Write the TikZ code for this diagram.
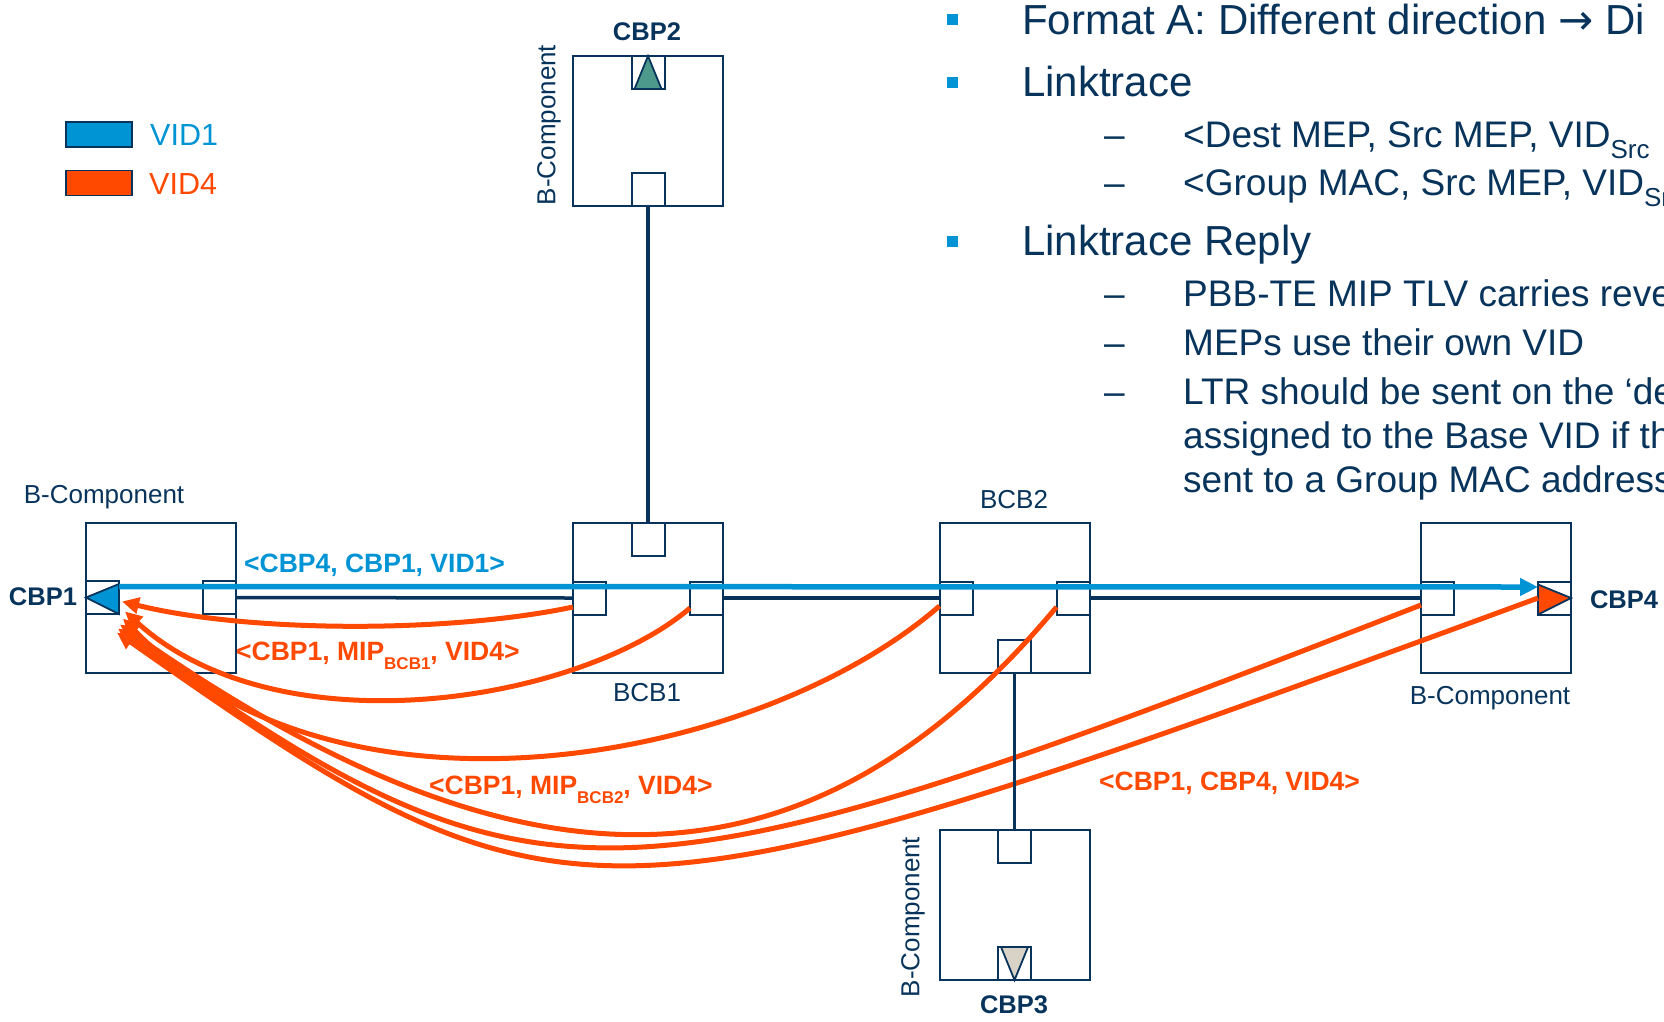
\documentclass[tikz,border=0pt]{standalone}
\usepackage{fontspec}
\setmainfont{Liberation Sans}
\newfontfamily\arrowfont{DejaVu Sans}
\usetikzlibrary{arrows.meta,calc}
\definecolor{navy}{RGB}{8,52,92}
\definecolor{vblue}{RGB}{0,148,212}
\definecolor{vorange}{RGB}{255,72,0}
\definecolor{tealfill}{RGB}{77,154,140}
\definecolor{beige}{RGB}{217,211,199}
\newcommand\lowtxt[2]{\raisebox{-0.32em}{\fontsize{#1}{#1}\selectfont #2}}
\begin{document}
\begin{tikzpicture}[x=1pt,y=-1pt,
  bbox/.style={draw=navy,line width=2pt,minimum width=150pt,minimum height=150pt,inner sep=0pt,outer sep=0pt},
  port/.style={draw=navy,line width=2pt,fill=white,minimum width=33pt,minimum height=33pt,inner sep=0pt,outer sep=0pt},
  link/.style={navy,line width=3.5pt},
  reply/.style={vorange,line width=5pt,-{Triangle[length=17pt,width=16pt]}},
  req/.style={vblue,line width=5.5pt,-{Triangle[length=18pt,width=17pt]}},
  lbl/.style={text=navy,inner sep=0pt,font=\fontsize{26}{30}\selectfont},
  cbp/.style={text=navy,inner sep=0pt,font=\bfseries\fontsize{25.5}{30}\selectfont},
  tag/.style={inner sep=0pt,anchor=west,font=\bfseries\fontsize{26.5}{30}\selectfont},
  big/.style={text=navy,inner sep=0pt,anchor=base west,font=\fontsize{42}{48}\selectfont},
  small/.style={text=navy,inner sep=0pt,anchor=base west,font=\fontsize{37}{44}\selectfont},
  bul/.style={fill=vblue,minimum size=11pt,inner sep=0pt},
  legbox/.style={draw=navy,line width=1.5pt,minimum width=66pt,minimum height=25pt,inner sep=0pt},
  tri/.style={draw=navy,line width=1.8pt,line join=miter},
]
\useasboundingbox (0,0) rectangle (1664,1021);
\clip (0,0) rectangle (1664,1021);

% legend
\node[legbox,fill=vblue] (leg1) at (99,134.5) {};
\node[legbox,fill=vorange] (leg4) at (99,183) {};
\node[anchor=west,inner sep=0pt,text=vblue,font=\fontsize{30.5}{34}\selectfont] (leg1t) at (150,135) {VID1};
\node[anchor=west,inner sep=0pt,text=vorange,font=\fontsize{30.5}{34}\selectfont] (leg4t) at (149,184) {VID4};

% boxes
\node[bbox] (cbp2) at (648,131) {};
\node[bbox] (bcb1) at (648,598) {};
\node[bbox] (bcb2) at (1014.5,598) {};
\node[bbox] (cbp3) at (1014.5,905) {};
\node[bbox] (cbp1) at (161,597.5) {};
\node[bbox] (cbp4) at (1496,598) {};

% ports
\node[port,anchor=north] (cbp2t) at (cbp2.north) {};
\node[port,anchor=south] (cbp2b) at (cbp2.south) {};
\node[port,anchor=north] (bcb1t) at (bcb1.north) {};
\node[port,anchor=west] (bcb1l) at (bcb1.west) {};
\node[port,anchor=east] (bcb1r) at (bcb1.east) {};
\node[port,anchor=west] (bcb2l) at (bcb2.west) {};
\node[port,anchor=east] (bcb2r) at (bcb2.east) {};
\node[port,anchor=south] (bcb2b) at (bcb2.south) {};
\node[port,anchor=north] (cbp3t) at (cbp3.north) {};
\node[port,anchor=south] (cbp3b) at (cbp3.south) {};
\node[port,anchor=west] (cbp1l) at (cbp1.west) {};
\node[port,anchor=east] (cbp1r) at (cbp1.east) {};
\node[port,anchor=west] (cbp4l) at (cbp4.west) {};
\node[port,anchor=east] (cbp4r) at (cbp4.east) {};

% port triangles
\draw[tri,fill=tealfill] ([xshift=3pt]cbp2t.south west) -- (cbp2t.north) -- ([xshift=-3pt]cbp2t.south east) -- cycle;
\draw[tri,fill=beige] ([xshift=3pt]cbp3b.north west) -- (cbp3b.south) -- ([xshift=-3pt]cbp3b.north east) -- cycle;
\draw[tri,fill=vblue] (cbp1l.west) -- ([yshift=-3pt]cbp1l.north east) -- (cbp1l.south east) -- cycle;
\draw[tri,fill=vorange] (cbp4r.east) -- ([yshift=-3pt]cbp4r.north west) -- (cbp4r.south west) -- cycle;

% labels
\node[cbp] (cbp2n) at (647,32) {CBP2};
\node[cbp] (cbp3n) at (1014,1005) {CBP3};
\node[cbp] (cbp1n) at (43,597) {CBP1};
\node[cbp] (cbp4n) at (1624,600) {CBP4};
\node[lbl,rotate=90] (cbp2c) at (549,125) {B-Component};
\node[lbl,rotate=90] (cbp3c) at (913,917) {B-Component};
\node[lbl] (cbp1c) at (104,497) {B-Component};
\node[lbl] (cbp4c) at (1490,698) {B-Component};
\node[lbl] (bcb1n) at (647,693) {BCB1};
\node[lbl] (bcb2n) at (1014,500) {BCB2};

% dark links
\draw[link] (cbp1r.east) -- (bcb1l.west);
\draw[link] (bcb1r.east) -- (bcb2l.west);
\draw[link] (bcb2r.east) -- (cbp4l.west);
\draw[link] (cbp2b.south) -- (bcb1t.north);

% reply curves
\coordinate (s1) at ([yshift=-9pt]bcb1l.west);
\coordinate (s2) at ([yshift=-10pt]bcb1r.west);
\coordinate (s3) at ([yshift=-8pt]bcb2l.west);
\coordinate (s4) at ([yshift=-9pt]bcb2r.west);
\coordinate (s5) at ([yshift=-7pt]cbp4l.west);
\coordinate (s6) at (cbp4r.west);
\coordinate (e1) at ([xshift=3pt,yshift=-4pt]cbp1l.east);
\coordinate (e2) at ([xshift=6pt,yshift=-14pt]cbp1l.east);
\coordinate (e3) at ([xshift=4pt,yshift=-21pt]cbp1l.east);
\coordinate (e4) at ([xshift=1pt,yshift=-27pt]cbp1l.east);
\coordinate (e5) at ([xshift=-1pt,yshift=-31pt]cbp1l.east);
\coordinate (e6) at ([xshift=-2pt,yshift=-35pt]cbp1l.east);
\draw[reply] (s1) .. controls (450,633) and (250,633) .. (e1);
\draw[reply] (s2) .. controls (580,702) and (280,752) .. (e2);
\draw[reply] (s3) .. controls (760,762) and (340,842) .. (e3);
\draw[reply] (s4) .. controls (806,907) and (520,905) .. (e4);
\draw[reply] (s5) .. controls (621,917) and (538,929) .. (e5);
\draw[reply] (s6) .. controls (588,947) and (567,948) .. (e6);

\draw[link] (bcb2b.south) -- (cbp3t.north);

% request
\draw[req] ([yshift=11pt]cbp1l.east) -- ([yshift=11pt]cbp4r.west);

% frame tags
\node[tag,text=vblue] (t1) at (244,565) {<CBP4, CBP1, VID1>};
\node[tag,text=vorange] (t2) at (236,656) {<CBP1, MIP\lowtxt{17}{BCB1}, VID4>};
\node[tag,text=vorange] (t3) at (429,790) {<CBP1, MIP\lowtxt{17}{BCB2}, VID4>};
\node[tag,text=vorange] (t4) at (1099,783) {<CBP1, CBP4, VID4>};

% bullet text
\node[bul] (b1) at (952,19) {};
\node[bul] (b2) at (952,82) {};
\node[bul] (b3) at (952,241) {};
\node[big] (x1) at (1022,34) {Format A: Different direction {\arrowfont →} Di};
\node[big] (x2) at (1022,96) {Linktrace};
\node[big] (x3) at (1022,255) {Linktrace Reply};
\node[small] (d1) at (1104,147) {–};
\node[small] (d2) at (1104,195) {–};
\node[small] (d3) at (1104,306) {–};
\node[small] (d4) at (1104,355) {–};
\node[small] (d5) at (1104,404) {–};
\node[small] (y1) at (1183,147) {<Dest MEP, Src MEP, VID\lowtxt{26}{Src}};
\node[small] (y2) at (1183,195) {<Group MAC, Src MEP, VID\lowtxt{26}{Src}};
\node[small] (y3) at (1183,306) {PBB-TE MIP TLV carries reverse};
\node[small] (y4) at (1183,355) {MEPs use their own VID};
\node[small] (y5) at (1183,404) {LTR should be sent on the ‘de};
\node[small] (y6) at (1183,448) {assigned to the Base VID if th};
\node[small] (y7) at (1183,492) {sent to a Group MAC address};
\end{tikzpicture}
\end{document}
